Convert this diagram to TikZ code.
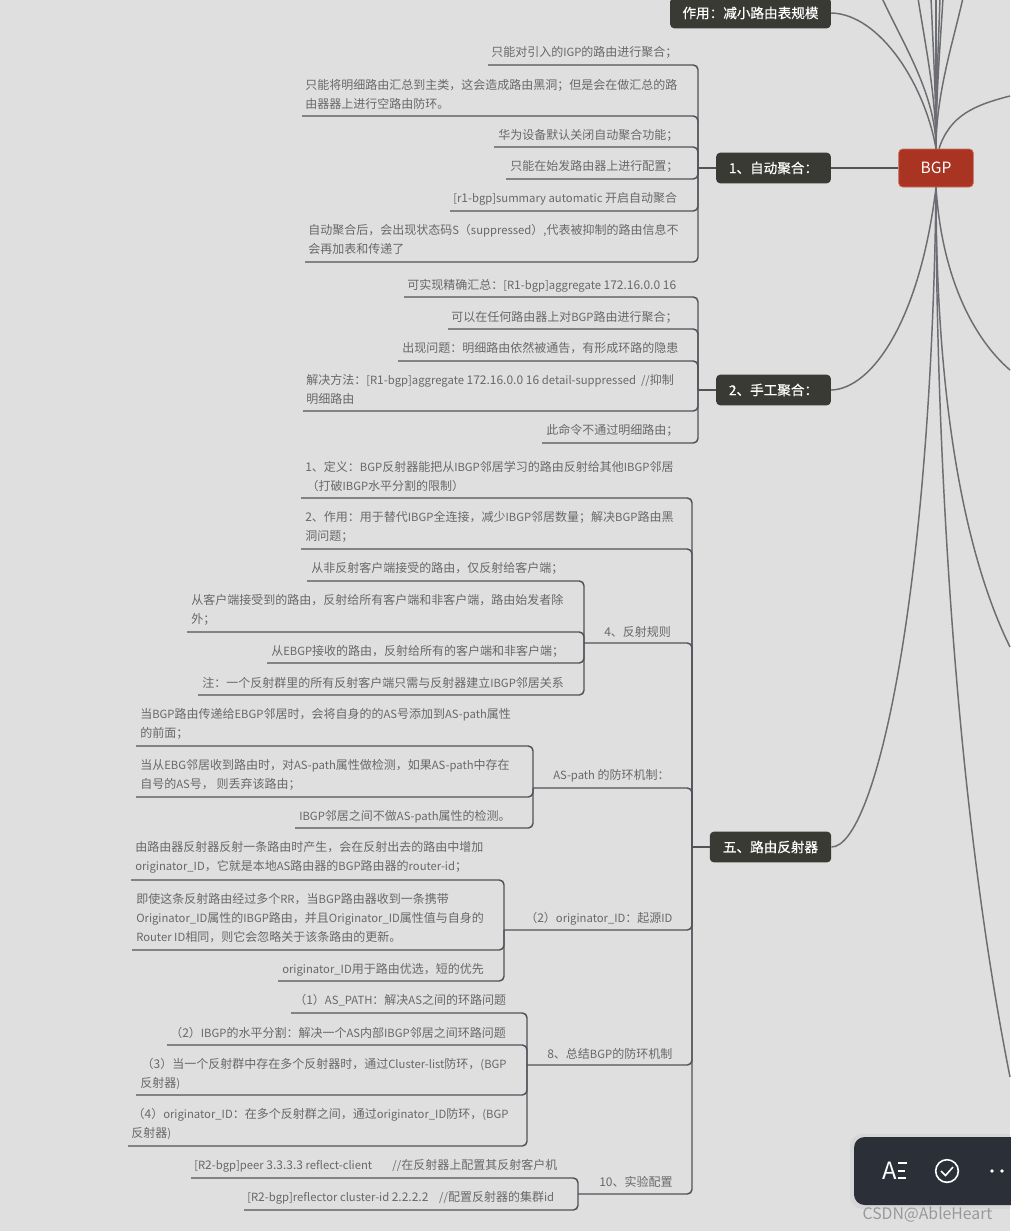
\documentclass[tikz,border=0pt]{standalone}
\usepackage{fontspec}
\setmainfont{Noto Sans CJK SC}[Scale=.94,BoldFont=*,BoldFeatures={FakeBold=.4}]
\newfontfamily\cjkfont{Noto Sans CJK SC}[BoldFont=*,BoldFeatures={FakeBold=.4}]
% latin runs a little smaller than the ideographs and digits
\newXeTeXintercharclass\cjkclass
\newcount\cjkchar
\newcommand{\cjkrange}[2]{\cjkchar=#1 \loop\ifnum\cjkchar<#2 \XeTeXcharclass\cjkchar=\cjkclass \advance\cjkchar by 1 \repeat}
\cjkrange{"2E}{"2F}
\cjkrange{"30}{"3A}
\cjkrange{"3000}{"3040}
\cjkrange{"4E00}{"A000}
\cjkrange{"FF00}{"FFF0}
\XeTeXinterchartokenstate=1
\XeTeXinterchartoks 0 \cjkclass={\cjkfont}
\XeTeXinterchartoks 4095 \cjkclass={\cjkfont}
\XeTeXinterchartoks \cjkclass 0={\rmfamily}
\XeTeXinterchartoks 4095 0={\rmfamily}
\usetikzlibrary{calc,positioning}
\definecolor{mmback}{RGB}{223,223,223}
\definecolor{mmhub}{RGB}{57,58,51}
\definecolor{mmred}{RGB}{168,52,33}
\definecolor{mmedge}{RGB}{205,110,95}
\definecolor{mmline}{RGB}{82,83,89}
\definecolor{mmtext}{RGB}{104,104,104}
\definecolor{mmbar}{RGB}{43,47,56}
\tikzset{
  leaf/.style={anchor=west,inner sep=0pt,yshift=-.4pt,align=left,text=mmtext,font=\fontsize{9}{14.25}\selectfont},
  hub/.style={fill=mmhub,text=white,rounded corners=3pt,inner sep=0pt,minimum height=23pt,font=\fontsize{10.2}{12}\selectfont\bfseries},
  branch/.style={draw=mmline,line width=1.1pt,rounded corners=3.5pt},
  stub/.style={draw=mmline,line width=1.5pt},
  strand/.style={draw=mmline!85!white,line width=1.1pt},
}
% one group of underlined texts on one vertical line
\newcommand{\mmleaves}[2]{%
  \foreach \nm/\xl/\yb/\xt/\yt/\txt in {#2}{
    \node[leaf] (\nm) at (\xt,\yt) {\txt};
    \coordinate (\nm u) at (\xl,\yb);
    \draw[branch] (#1) |- (\nm u);
  }%
}
\begin{document}
\begin{tikzpicture}[x=.75pt,y=-.75pt]
  \useasboundingbox (0,0) rectangle (1010,1231);
  \fill[mmback] (0,0) rectangle (1010,1231);

  % root and first level
  \node[fill=mmred,draw=mmedge,line width=.5pt,text=white,rounded corners=3pt,inner sep=0pt,minimum width=56pt,minimum height=28.5pt,font=\fontsize{12.4}{14}\selectfont] (bgp) at (936,168) {BGP};
  \node[hub,minimum width=120.5pt] (scale) at (750.5,13) {作用：减小路由表规模};
  \node[hub,minimum width=86pt] (auto) at (773.5,168) {1、自动聚合：};
  \node[hub,minimum width=86pt] (manual) at (773.5,390) {2、手工聚合：};
  \node[hub,minimum width=91pt] (rr) at (770.5,847) {五、路由反射器};

  % strands that leave the page
  \foreach \nm/\xe in {a/882,b/918,c/931,d/936,e/940,f/943,g/963}{
    \coordinate (up\nm) at (\xe,-2);
    \pgfmathsetmacro\xc{\xe+(936-\xe)*.4}
    \draw[strand] (bgp.north) .. controls (936,95) and (\xc,45) .. (up\nm);
  }
  \coordinate (offa) at (1010,96);
  \coordinate (offb) at (1010,370);
  \coordinate (offc) at (1010,647);
  \coordinate (offd) at (1010,1077);
  \draw[strand] (bgp.north) ++(3,0) .. controls (950,115) and (975,105) .. (offa);
  \draw[strand] (bgp.south) .. controls (942,280) and (975,340) .. (offb);
  \draw[strand] (bgp.south) .. controls (936,430) and (972,570) .. (offc);
  \draw[strand] (bgp.south) .. controls (936,450) and (955,800) .. (offd);

  % strands to the named boxes
  \draw[strand] (scale.east) .. controls (880,14) and (925,85) .. (bgp.north);
  \draw[stub] (auto.east) -- (bgp.west);
  \draw[strand] (manual.east) .. controls (872,389) and (920,320) .. (bgp.south);
  \draw[strand] (rr.east) .. controls (875,847) and (931,600) .. (bgp.south);

  % spines
  \coordinate (spinea) at (698,168);
  \coordinate (spineb) at (698,390);
  \coordinate (spiner) at (692,847);
  \coordinate (spinec) at (584,643);
  \coordinate (spined) at (533,788);
  \coordinate (spinee) at (504,930);
  \coordinate (spinef) at (527,1065);
  \coordinate (spineg) at (578,1194);
  \draw[stub] (auto.west) -- (spinea);
  \draw[stub] (manual.west) -- (spineb);
  \draw[stub] (rr.west) -- (spiner);

  \mmleaves{spinea}{
    a1/488/65/491/52/{只能对引入的IGP的路由进行聚合；},
    a2/302/116/305/93.5/{只能将明细路由汇总到主类，这会造成路由黑洞；但是会在做汇总的路\\由器器上进行空路由防环。},
    a3/494/147/498/135/{华为设备默认关闭自动聚合功能；},
    a4/506/179/510/166/{只能在始发路由器上进行配置；},
    a5/450/211/453/198/{[r1-bgp]summary automatic 开启自动聚合},
    a6/305/262/308/238.5/{自动聚合后，会出现状态码S（suppressed）,代表被抑制的路由信息不\\会再加表和传递了}}
  \mmleaves{spineb}{
    b1/404/297/407/285/{可实现精确汇总：[R1-bgp]aggregate 172.16.0.0 16},
    b2/448/329/451/317/{可以在任何路由器上对BGP路由进行聚合；},
    b3/398/361/402/348/{出现问题：明细路由依然被通告，有形成环路的隐患},
    b4/303/411/306/389/{解决方法：[R1-bgp]aggregate 172.16.0.0 16 detail-suppressed\ \ //抑制\\明细路由},
    b5/542/443/546/430/{此命令不通过明细路由；}}
  \mmleaves{spiner}{
    r1/301/498/305/475.5/{1、定义：BGP反射器能把从IBGP邻居学习的路由反射给其他IBGP邻居\\\hspace*{1pt}（打破IBGP水平分割的限制）},
    r2/301/549/305/526.5/{2、作用：用于替代IBGP全连接，减少IBGP邻居数量；解决BGP路由黑\\洞问题；},
    r3/584/643/604/631/{4、反射规则},
    r4/533/788/553/775/{AS-path 的防环机制：},
    r5/504/930/525/918/{（2）originator\_ID：起源ID},
    r6/527/1065/547/1053/{8、总结BGP的防环机制},
    r7/578/1194/599/1181/{10、实验配置}}
  \mmleaves{spinec}{
    c1/307/581/311/568/{从非反射客户端接受的路由，仅反射给客户端；},
    c2/187/632/191/609.5/{从客户端接受到的路由，反射给所有客户端和非客户端，路由始发者除\\外；},
    c3/267/663/271/651/{从EBGP接收的路由，反射给所有的客户端和非客户端；},
    c4/198/695/202/682/{注：一个反射群里的所有反射客户端只需与反射器建立IBGP邻居关系}}
  \mmleaves{spined}{
    d1/136/746/140/723.5/{当BGP路由传递给EBGP邻居时，会将自身的的AS号添加到AS-path属性\\的前面；},
    d2/136/797/140/774.5/{当从EBG邻居收到路由时，对AS-path属性做检测，如果AS-path中存在\\自号的AS号， 则丢弃该路由；},
    d3/295/828/299/816/{IBGP邻居之间不做AS-path属性的检测。}}
  \mmleaves{spinee}{
    e1/131/880/135/857/{由路由器反射器反射一条路由时产生，会在反射出去的路由中增加\\originator\_ID，它就是本地AS路由器的BGP路由器的router-id；},
    e2/132/950/136/918/{即使这条反射路由经过多个RR，当BGP路由器收到一条携带\\Originator\_ID属性的IBGP路由，并且Originator\_ID属性值与自身的\\Router ID相同，则它会忽略关于该条路由的更新。},
    e3/278/981/282/969/{originator\_ID用于路由优选，短的优先}}
  \mmleaves{spinef}{
    f1/291/1013/294/1000/{（1）AS\_PATH：解决AS之间的环路问题},
    f2/167/1045/170/1032/{（2）IBGP的水平分割：解决一个AS内部IBGP邻居之间环路问题},
    f3/136/1095/140/1073/{\hspace*{1pt}（3）当一个反射群中存在多个反射器时，通过Cluster-list防环，(BGP\\反射器)},
    f4/128/1146/131/1123.5/{\hspace*{1pt}（4）originator\_ID：在多个反射群之间，通过originator\_ID防环，(BGP\\反射器)}}
  \mmleaves{spineg}{
    g1/191/1178/194/1165/{[R2-bgp]peer 3.3.3.3 reflect-client\ \ \ \ \ \ \ \ //在反射器上配置其反射客户机},
    g2/244/1210/247/1197/{[R2-bgp]reflector cluster-id 2.2.2.2\ \ \ \ //配置反射器的集群id}}

  % tool bar and watermark
  \fill[black,opacity=.04,rounded corners=9pt] (850,1134) rectangle (1030,1209);
  \fill[mmbar,rounded corners=8pt] (854,1137) rectangle (1030,1205);
  \node[text=white,inner sep=0pt,font=\fontsize{19}{19}\selectfont] (barA) at (889.5,1171) {A};
  \foreach \y/\xe in {1163/907,1171/905,1178/906}{\draw[white,line width=1pt] (898,\y)--(\xe,\y);}
  \node[circle,draw=white,line width=1.2pt,minimum size=17pt,inner sep=0pt] (barok) at (947,1171) {};
  \draw[white,line width=1.2pt] (941,1171)--(945.5,1175.5)--(953,1167);
  \foreach \x in {992,1002}{\fill[white] (\x,1171) circle (1.8);}
  \node[text=black!40,inner sep=0pt,font=\fontsize{12.6}{14}\selectfont] (wm) at (927.5,1215) {CSDN@AbleHeart};
\end{tikzpicture}
\end{document}
